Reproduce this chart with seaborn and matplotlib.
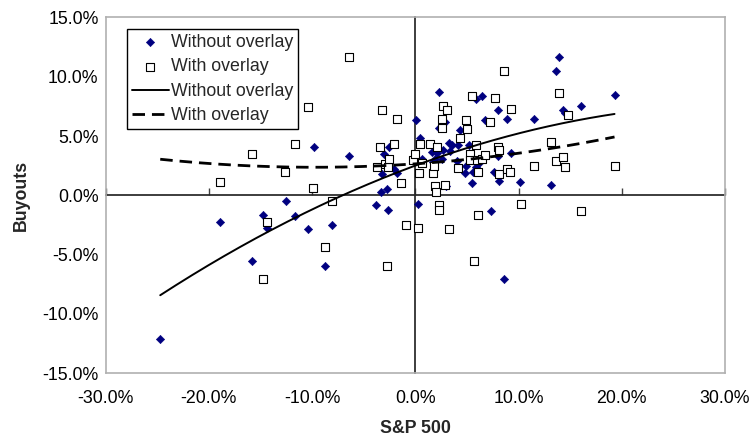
import numpy as np
import pandas as pd
import matplotlib
matplotlib.use("Agg")
import matplotlib.pyplot as plt
from matplotlib.ticker import PercentFormatter, FixedLocator
import seaborn as sns

# Quarterly returns in percent: S&P 500 (x) against buyout returns (y)
sp500_without = [-24.7, -18.9, -15.8, -14.75, -14.35, -12.55, -11.65, -10.4, -9.85, -8.7,
                 -8.1, -6.4, -3.8, -3.35, -3.2, -3.0, -2.75, -2.65, -2.5, -2.1,
                 -1.8, 0.05, 0.3, 0.5, 0.65, 1.6, 1.7, 1.9, 2.1, 2.3,
                 2.3, 2.6, 2.7, 2.9, 3.0, 3.3, 3.35, 3.6, 4.0, 4.1,
                 4.3, 4.8, 4.9, 5.25, 5.3, 5.5, 5.6, 5.9, 5.9, 6.15,
                 6.5, 6.8, 7.3, 7.6, 8.05, 8.05, 8.1, 8.6, 8.85, 9.3,
                 10.1, 11.5, 13.1, 13.6, 13.9, 14.35, 14.5, 16.1, 19.3]
buyouts_without = [-12.1, -2.25, -5.55, -1.7, -2.8, -0.5, -1.77, -2.87, 4.05, -6.0,
                   -2.5, 3.35, -0.85, 0.3, 1.8, 3.5, 0.55, -1.25, 4.05, 2.2,
                   1.9, 6.35, -0.75, 4.8, 3.1, 3.65, 2.8, 3.1, 3.6, 8.7,
                   5.7, 3.1, 3.85, 6.2, 0.8, 4.45, 3.75, 4.25, 2.9, 4.2,
                   5.5, 1.9, 2.5, 4.25, 3.0, 1.05, 1.95, 8.1, 2.4, 2.7,
                   8.35, 6.35, -1.35, 2.0, 7.2, 3.3, 1.2, -7.1, 6.4, 3.6,
                   1.15, 6.45, 0.85, 10.5, 11.65, 7.2, 6.9, 7.5, 8.45]

sp500_with = [-18.9, -15.8, -14.75, -14.35, -12.6, -11.6, -10.4, -9.9, -8.7, -8.1,
              -6.45, -3.7, -3.4, -3.2, -2.95, -2.7, -2.6, -2.5, -2.1, -1.8,
              -1.4, -0.9, -0.2, 0.0, 0.3, 0.4, 0.5, 0.7, 1.4, 1.7,
              1.8, 1.9, 2.05, 2.1, 2.3, 2.3, 2.6, 2.6, 2.7, 2.85,
              3.1, 3.25, 4.1, 4.3, 4.9, 5.0, 5.3, 5.3, 5.5, 5.7,
              5.9, 6.0, 6.1, 6.1, 6.5, 6.8, 7.2, 7.7, 8.05, 8.1,
              8.1, 8.6, 8.9, 9.15, 9.3, 10.2, 11.5, 13.1, 13.6, 13.9,
              14.35, 14.55, 14.8, 16.1, 19.3]
buyouts_with = [1.15, 3.45, -7.1, -2.25, 2.0, 4.3, 7.45, 0.6, -4.4, -0.5,
                11.7, 2.4, 4.05, 7.2, 2.6, -6.0, 2.4, 3.05, 4.35, 6.4,
                1.05, -2.5, 2.95, 3.5, -2.8, 1.9, 4.3, 2.7, 4.3, 1.85,
                2.45, 0.8, 0.3, 4.1, -0.8, -1.25, 6.4, 5.7, 7.5, 0.85,
                7.2, -2.85, 2.3, 4.8, 6.35, 5.6, 3.5, 2.95, 8.35, -5.55,
                4.25, 3.0, 1.95, -1.7, 3.1, 3.4, 6.2, 8.2, 4.05, 3.85,
                1.8, 10.5, 2.2, 2.0, 7.3, -0.7, 2.5, 4.5, 2.9, 8.65,
                3.2, 2.35, 6.75, -1.35, 2.5]

# Second-order polynomial trendlines (coefficients, highest power first, on fractions)
trend_without = [-0.493, 0.321, 0.025]
trend_with = [0.303, 0.0591, 0.0265]

x_ticks = [-30, -20, -10, 0, 10, 20, 30]
y_ticks = [-15, -10, -5, 0, 5, 10, 15]

df_without = pd.DataFrame({"sp500": np.array(sp500_without) / 100,
                           "buyouts": np.array(buyouts_without) / 100})
df_with = pd.DataFrame({"sp500": np.array(sp500_with) / 100,
                        "buyouts": np.array(buyouts_with) / 100})

x_fit = np.linspace(df_without["sp500"].min(), df_without["sp500"].max(), 200)
df_fit = pd.DataFrame({
    "sp500": x_fit,
    "without": np.polyval(trend_without, x_fit),
    "with": np.polyval(trend_with, x_fit),
})

sns.set_theme(style="white")
plt.rcParams["font.family"] = ["Liberation Sans", "DejaVu Sans"]
plt.rcParams["axes.unicode_minus"] = False

fig = plt.figure(figsize=(7.52, 4.43), dpi=100)
ax = fig.add_axes([0.1403, 0.158, 0.8238, 0.8025])

navy = "#000080"
sns.scatterplot(data=df_without, x="sp500", y="buyouts", marker="D", s=18,
                color=navy, edgecolor=navy, linewidth=0.4, ax=ax,
                label="Without overlay", zorder=3)
sns.scatterplot(data=df_with, x="sp500", y="buyouts", marker="s", s=27,
                facecolor="white", edgecolor="black", linewidth=0.8, ax=ax,
                label="With overlay", zorder=4)
sns.lineplot(data=df_fit, x="sp500", y="without", color="black", lw=1.4,
             ax=ax, label="Without overlay", zorder=5)
sns.lineplot(data=df_fit, x="sp500", y="with", color="black", lw=2.0,
             dashes=False, ax=ax, label="With overlay", zorder=5)
ax.lines[-1].set_dashes([4.5, 2.5])

ax.set_xlim(-0.30, 0.30)
ax.set_ylim(-0.15, 0.15)
ax.xaxis.set_major_locator(FixedLocator(np.array(x_ticks) / 100))
ax.yaxis.set_major_locator(FixedLocator(np.array(y_ticks) / 100))
ax.xaxis.set_major_formatter(PercentFormatter(1.0, decimals=1))
ax.yaxis.set_major_formatter(PercentFormatter(1.0, decimals=1))
ax.tick_params(axis="both", length=0, labelsize=12.8, colors="black")
ax.tick_params(axis="x", pad=12.5)
ax.tick_params(axis="y", pad=5)

for sp in ax.spines.values():
    sp.set_color("#b0b0b0")
    sp.set_linewidth(1.2)

# Axis lines crossing at zero, with outward ticks on the horizontal one
sec_x = ax.secondary_xaxis(0.5)
sec_x.xaxis.set_major_locator(FixedLocator(np.array(x_ticks) / 100))
sec_x.tick_params(axis="x", direction="out", length=5, width=1, color="#404040",
                  labelbottom=False, labeltop=False)
sec_x.spines["bottom"].set_color("#707070")
sec_x.spines["bottom"].set_linewidth(1.2)
sec_y = ax.secondary_yaxis(0.5)
sec_y.tick_params(axis="y", length=0, labelleft=False, labelright=False)
sec_y.spines["left"].set_color("#707070")
sec_y.spines["left"].set_linewidth(1.2)

ax.set_xlabel("S&P 500", fontsize=12.8, fontweight="bold", labelpad=9)
ax.set_ylabel("Buyouts", fontsize=12.8, fontweight="bold", labelpad=9)

leg = ax.legend(loc="upper left", bbox_to_anchor=(0.034, 0.968), borderaxespad=0,
                fontsize=12.8, frameon=True, fancybox=False, handlelength=2.1,
                handletextpad=0.1, labelspacing=0.42, borderpad=0.28)
leg.get_frame().set_edgecolor("black")
leg.get_frame().set_linewidth(1.0)
leg.get_frame().set_alpha(1)
leg.set_zorder(10)

fig.savefig("out.png", dpi=100)
